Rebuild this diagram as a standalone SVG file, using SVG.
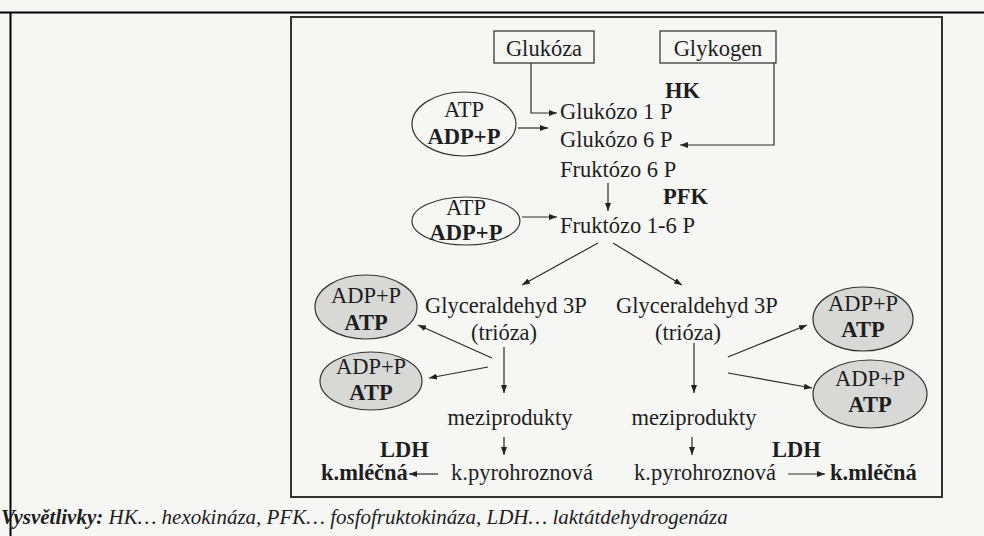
<svg xmlns="http://www.w3.org/2000/svg" width="984" height="536" viewBox="0 0 984 536">
<defs>
<marker id="ah" markerWidth="8" markerHeight="6" refX="8" refY="3" orient="auto" markerUnits="userSpaceOnUse">
<path d="M0,0 L8,3 L0,6 Z" fill="#222"/>
</marker>
<style>
.t{font-family:"Liberation Serif","Times New Roman",serif;font-size:22.5px;fill:#1e1e1e}
.b{font-weight:bold}
.c{fill:none;stroke:#2a2a2a;stroke-width:1.2}
.e{fill:none;stroke:#333;stroke-width:1.2}
.g{fill:#d8d8d6;stroke:#333;stroke-width:1.2}
.box{fill:none;stroke:#3a3a3a;stroke-width:1.3}
.lg{font-family:"Liberation Serif","Times New Roman",serif;font-size:21px;font-style:italic;fill:#1e1e1e}
</style>
</defs>
<rect x="0" y="0" width="984" height="536" fill="#f6f6f4"/>
<path d="M0,12.5 H984 M10.5,12.5 V536" fill="none" stroke="#000" stroke-width="2"/>
<rect x="291" y="17" width="651" height="480" fill="none" stroke="#333" stroke-width="2"/>

<g id="glukoza"><rect class="box" x="494" y="31" width="100" height="32"/><text class="t" x="544" y="56" text-anchor="middle">Glukóza</text></g>
<g id="glykogen"><rect class="box" x="660" y="31" width="116" height="32"/><text class="t" x="718" y="56" text-anchor="middle">Glykogen</text></g>
<g id="hk"><text class="t b" x="665" y="98">HK</text></g>
<g id="atp1"><ellipse class="e" cx="464" cy="124" rx="52" ry="32"/><text class="t" x="464" y="117" text-anchor="middle">ATP</text><text class="t b" x="464" y="144" text-anchor="middle">ADP+P</text></g>
<g id="g1p"><text class="t" x="560" y="119">Glukózo 1 P</text></g>
<g id="g6p"><text class="t" x="560" y="147">Glukózo 6 P</text></g>
<g id="f6p"><text class="t" x="560" y="177">Fruktózo 6 P</text></g>
<g id="pfk"><text class="t b" x="663" y="204">PFK</text></g>
<g id="atp2"><ellipse class="e" cx="466" cy="221" rx="54" ry="24"/><text class="t" x="466" y="215" text-anchor="middle">ATP</text><text class="t b" x="466" y="240" text-anchor="middle">ADP+P</text></g>
<g id="f16p"><text class="t" x="560" y="233">Fruktózo 1-6 P</text></g>

<g id="gal"><text class="t" x="425" y="313">Glyceraldehyd 3P</text><text class="t" x="504" y="340" text-anchor="middle">(trióza)</text></g>
<g id="gar"><text class="t" x="616" y="313">Glyceraldehyd 3P</text><text class="t" x="688" y="340" text-anchor="middle">(trióza)</text></g>
<g id="l1"><ellipse class="g" cx="366" cy="307" rx="51" ry="32"/><text class="t" x="366" y="303" text-anchor="middle">ADP+P</text><text class="t b" x="366" y="330" text-anchor="middle">ATP</text></g>
<g id="l2"><ellipse class="g" cx="371" cy="381" rx="51" ry="29"/><text class="t" x="371" y="374" text-anchor="middle">ADP+P</text><text class="t b" x="371" y="400" text-anchor="middle">ATP</text></g>
<g id="r1"><ellipse class="g" cx="863" cy="319" rx="50" ry="32"/><text class="t" x="863" y="311" text-anchor="middle">ADP+P</text><text class="t b" x="863" y="337" text-anchor="middle">ATP</text></g>
<g id="r2"><ellipse class="g" cx="870" cy="394" rx="57" ry="34"/><text class="t" x="870" y="386" text-anchor="middle">ADP+P</text><text class="t b" x="870" y="412" text-anchor="middle">ATP</text></g>

<g id="mezl"><text class="t" x="510" y="425" text-anchor="middle">meziprodukty</text></g>
<g id="mezr"><text class="t" x="694" y="425" text-anchor="middle">meziprodukty</text></g>
<g id="ldhl"><text class="t b" x="380" y="457">LDH</text></g>
<g id="ldhr"><text class="t b" x="772" y="457">LDH</text></g>
<g id="kml"><text class="t b" x="321" y="480">k.mléčná</text></g>
<g id="kpl"><text class="t" x="522" y="480" text-anchor="middle">k.pyrohroznová</text></g>
<g id="kpr"><text class="t" x="705" y="480" text-anchor="middle">k.pyrohroznová</text></g>
<g id="kmr"><text class="t b" x="830" y="480">k.mléčná</text></g>

<g id="connectors">
<polyline class="c" points="531,63 531,113 557,113" marker-end="url(#ah)"/>
<polyline class="c" points="774,63 774,145 680,145" marker-end="url(#ah)"/>
<line class="c" x1="518" y1="128" x2="548" y2="128" marker-end="url(#ah)"/>
<line class="c" x1="608" y1="183" x2="608" y2="211" marker-end="url(#ah)"/>
<line class="c" x1="522" y1="217" x2="557" y2="217" marker-end="url(#ah)"/>
<line class="c" x1="598" y1="243" x2="522" y2="285" marker-end="url(#ah)"/>
<line class="c" x1="613" y1="243" x2="682" y2="285" marker-end="url(#ah)"/>
<line class="c" x1="492" y1="358" x2="418" y2="325" marker-end="url(#ah)"/>
<line class="c" x1="488" y1="367" x2="429" y2="378" marker-end="url(#ah)"/>
<line class="c" x1="504" y1="347" x2="504" y2="393" marker-end="url(#ah)"/>
<line class="c" x1="728" y1="357" x2="807" y2="325" marker-end="url(#ah)"/>
<line class="c" x1="728" y1="373" x2="812" y2="388" marker-end="url(#ah)"/>
<line class="c" x1="694" y1="343" x2="694" y2="393" marker-end="url(#ah)"/>
<line class="c" x1="504" y1="437" x2="504" y2="455" marker-end="url(#ah)"/>
<line class="c" x1="692" y1="437" x2="692" y2="455" marker-end="url(#ah)"/>
<line class="c" x1="438" y1="474" x2="409" y2="474" marker-end="url(#ah)"/>
<line class="c" x1="788" y1="474" x2="825" y2="474" marker-end="url(#ah)"/>
</g>

<g id="legend"><text class="lg" x="1" y="524"><tspan font-weight="bold">Vysvětlivky:</tspan> HK… hexokináza, PFK… fosfofruktokináza, LDH… laktátdehydrogenáza</text></g>
</svg>
